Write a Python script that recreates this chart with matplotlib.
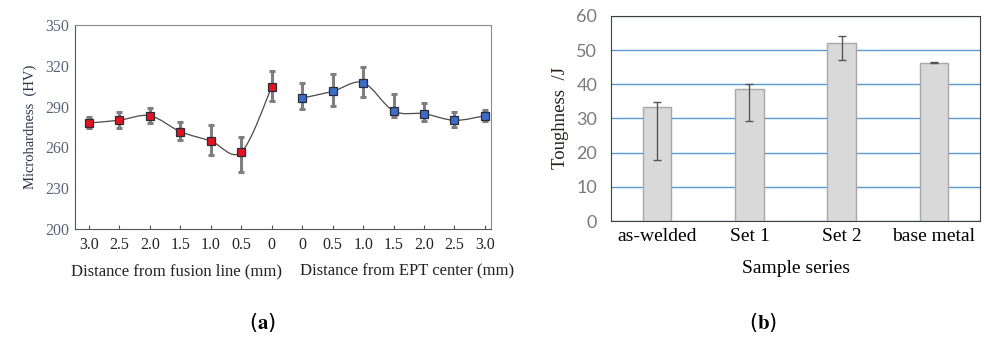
import numpy as np
import matplotlib
matplotlib.use("Agg")
import matplotlib.pyplot as plt
from matplotlib.path import Path
from matplotlib.patches import PathPatch

plt.rcParams['mathtext.fontset'] = 'stix'

# (a) microhardness
fusion_labels = ["3.0", "2.5", "2.0", "1.5", "1.0", "0.5", "0"]
fusion_hv = [278.0, 280.0, 283.3, 271.6, 264.7, 256.6, 304.4]
fusion_err_lo = [4.0, 5.5, 5.3, 6.4, 10.3, 14.9, 10.1]
fusion_err_hi = [4.0, 5.8, 5.9, 6.8, 11.8, 11.3, 11.8]

ept_labels = ["0", "0.5", "1.0", "1.5", "2.0", "2.5", "3.0"]
ept_hv = [296.3, 301.2, 307.6, 286.8, 284.8, 279.9, 283.3]
ept_err_lo = [8.1, 10.8, 10.6, 4.2, 5.4, 5.1, 4.1]
ept_err_hi = [11.3, 13.0, 11.5, 12.5, 7.8, 5.9, 4.2]

# (b) toughness
samples = ["as-welded", "Set 1", "Set 2", "base metal"]
toughness = [33.3, 38.6, 52.1, 46.3]
tough_err_lo = [15.5, 9.4, 5.1, 0.1]
tough_err_hi = [1.4, 1.4, 2.1, 0.1]


def smooth_path(xs, ys):
    # Catmull-Rom through the points, drawn as cubic Bezier segments
    pts = np.column_stack([xs, ys])
    n = len(pts)
    verts = [pts[0]]
    codes = [Path.MOVETO]
    for i in range(n - 1):
        p0 = pts[max(i - 1, 0)]
        p1 = pts[i]
        p2 = pts[i + 1]
        p3 = pts[min(i + 2, n - 1)]
        verts += [p1 + (p2 - p0) / 6, p2 - (p3 - p1) / 6, p2]
        codes += [Path.CURVE4] * 3
    return Path(verts, codes)


fig = plt.figure(figsize=(9.84, 3.38), dpi=100)
serif = "Liberation Serif"

# ---------- (a) ----------
ax1 = fig.add_axes([0.0762, 0.3225, 0.4228, 0.6035])
x_f = np.arange(len(fusion_hv))
x_e = np.arange(len(ept_hv)) + len(fusion_hv)

for xs, ys in [(x_f, fusion_hv), (x_e, ept_hv)]:
    ax1.add_patch(PathPatch(smooth_path(xs, ys), facecolor="none",
                            edgecolor="#4a4a4a", lw=0.9, zorder=2))

ax1.errorbar(x_f, fusion_hv, yerr=[fusion_err_lo, fusion_err_hi], fmt="none",
             ecolor="#7f7f7f", elinewidth=2.2, capsize=2.5, capthick=2.2, zorder=3)
ax1.errorbar(x_e, ept_hv, yerr=[ept_err_lo, ept_err_hi], fmt="none",
             ecolor="#7f7f7f", elinewidth=2.2, capsize=2.5, capthick=2.2, zorder=3)
ax1.plot(x_f, fusion_hv, "s", ms=5.5, mfc="#e3141f", mec="#2b2b3b", mew=0.9, zorder=4)
ax1.plot(x_e, ept_hv, "s", ms=5.5, mfc="#3a6cc8", mec="#2b2b3b", mew=0.9, zorder=4)

ax1.set_xlim(-0.46, 13.2)
ax1.set_ylim(200, 350)
ax1.set_yticks(range(200, 351, 30))
ax1.set_xticks(np.concatenate([x_f, x_e]))
ax1.set_xticklabels(fusion_labels + ept_labels)
ax1.tick_params(axis="x", direction="in", length=3, color="#555555",
                labelsize=11.5, labelcolor="#222222", pad=6)
ax1.tick_params(axis="y", length=0, labelsize=11.5, labelcolor="#5a6678", pad=4)
for lab in ax1.get_xticklabels() + ax1.get_yticklabels():
    lab.set_fontfamily(serif)
for side in ["left", "bottom"]:
    ax1.spines[side].set_color("#555555")
for side in ["top", "right"]:
    ax1.spines[side].set_color("#8a8a8a")
ax1.set_ylabel("Microhardness  (HV)", family=serif, fontsize=10.5, color="#2a3348", labelpad=6)
ax1.text(0.245, -0.21, "Distance from fusion line (mm)", transform=ax1.transAxes,
         ha="center", va="center", family=serif, fontsize=12, color="#222222")
ax1.text(0.798, -0.21, "Distance from EPT center (mm)", transform=ax1.transAxes,
         ha="center", va="center", family=serif, fontsize=12, color="#222222")

# ---------- (b) ----------
ax2 = fig.add_axes([0.621, 0.346, 0.375, 0.607])
xb = np.arange(len(samples))
ax2.bar(xb, toughness, width=0.31, color="#d9d9d9", edgecolor="#a8a8a8", lw=1.0, zorder=2)
ax2.errorbar(xb, toughness, yerr=[tough_err_lo, tough_err_hi], fmt="none",
             ecolor="#555555", elinewidth=1.0, capsize=3, capthick=1.0, zorder=3)
ax2.set_xlim(-0.5, 3.5)
ax2.set_ylim(0, 60)
ax2.set_yticks(range(0, 61, 10))
ax2.yaxis.grid(True, color="#5b9bd5", lw=1.0, zorder=0)
ax2.set_axisbelow(True)
ax2.set_xticks(xb)
ax2.set_xticklabels(samples, family=serif, fontsize=14)
ax2.tick_params(axis="x", length=0, pad=5)
ax2.tick_params(axis="y", length=0, labelsize=13, labelcolor="#7a7a7a", pad=10)
for lab in ax2.get_yticklabels():
    lab.set_fontfamily("Lato")
for side in ax2.spines:
    ax2.spines[side].set_color("#404040")
ax2.set_ylabel("Toughness  /J", family=serif, fontsize=13.5, color="#2a1f1a", labelpad=5)
ax2.set_xlabel("Sample series", family=serif, fontsize=14, labelpad=11)

fig.text(0.267, 0.047, r"($\mathbf{a}$)", ha="center", va="center", fontsize=15)
fig.text(0.775, 0.047, r"($\mathbf{b}$)", ha="center", va="center", fontsize=15)

fig.savefig("out.png", dpi=100)
